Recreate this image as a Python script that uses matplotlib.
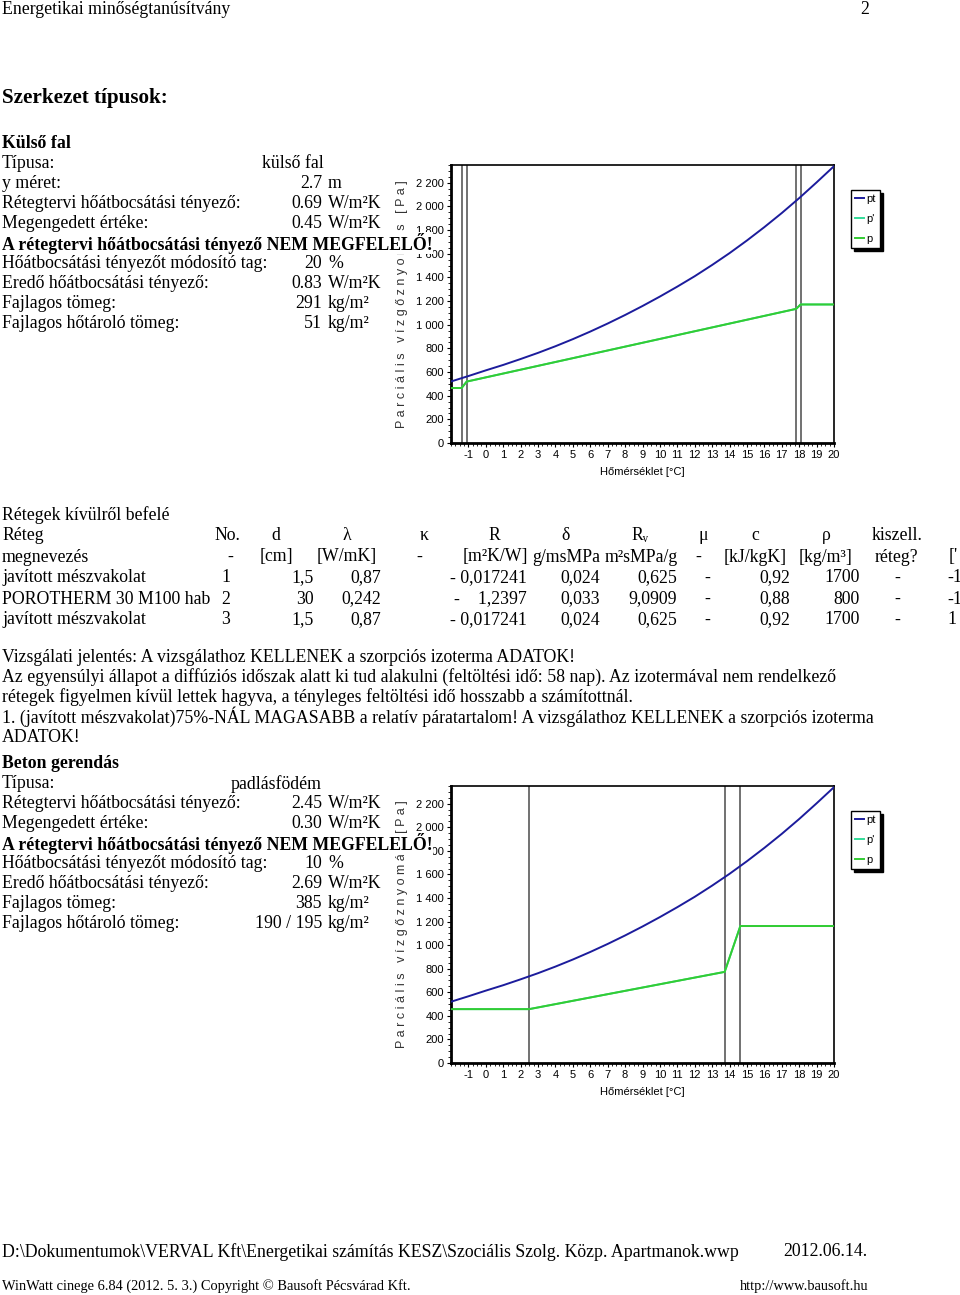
import matplotlib
matplotlib.use('Agg')
import matplotlib.pyplot as plt
from matplotlib.ticker import MultipleLocator

plt.rcParams['font.family'] = ['Liberation Serif', 'DejaVu Serif']
NARROW = ['Liberation Sans Narrow', 'Liberation Sans', 'DejaVu Sans']

# --- chart data ---
temps = [-2, -1, 0, 1, 2, 3, 4, 5, 6, 7, 8, 9, 10, 11, 12, 13, 14, 15, 16, 17, 18, 19, 20]
pt = [520, 566, 614, 660, 710, 762, 818, 878, 942, 1010, 1082, 1158, 1238, 1322, 1410, 1505, 1605, 1712, 1825, 1944, 2070, 2203, 2340]

wall_t = [-2, -1.39, -1.10, 17.83, 18.08, 20]
wall_p = [465, 465, 519, 1134, 1171, 1171]
wall_bounds = [-1.39, -1.10, 17.83, 18.08]

slab_t = [-2, 2.49, 13.72, 14.62, 20]
slab_p = [457, 457, 773, 1162, 1162]
slab_bounds = [2.49, 13.72, 14.62]

xticks = list(range(-1, 21))
yticks = [0, 200, 400, 600, 800, 1000, 1200, 1400, 1600, 1800, 2000, 2200]
ylabels = ['0', '200', '400', '600', '800', '1 000', '1 200', '1 400',
           '1 600', '1 800', '2 000', '2 200']

W, H = 960, 1295
FS = 12.8
fig = plt.figure(figsize=(W / 100, H / 100), dpi=100)
fig.patch.set_facecolor('white')


def t(x, y, s, **kw):
    kw.setdefault('fontsize', FS)
    kw.setdefault('va', 'center')
    return fig.text(x / W, 1 - y / H, s, **kw)


def chart(top, bottom, ct, cp, bounds):
    ax = fig.add_axes([451 / W, 1 - bottom / H, 383 / W, (bottom - top) / H])
    for b in bounds:
        ax.axvline(b, color='#666666', lw=1.3, zorder=1)
    ax.plot(temps, pt, color='#1c1c9c', lw=1.4, label='pt', zorder=3)
    ax.plot(ct, cp, color='#33dd99', lw=1.4, label="p'", zorder=2)
    ax.plot(ct, cp, color='#33cc33', lw=1.4, label='p', zorder=3)
    ax.set_xlim(-2, 20)
    ax.set_ylim(0, 2350)
    ax.set_xticks(xticks)
    ax.set_xticklabels([str(v) for v in xticks], family=NARROW, fontsize=8)
    ax.set_yticks(yticks)
    ax.set_yticklabels(ylabels, family=NARROW, fontsize=8)
    ax.xaxis.set_minor_locator(MultipleLocator(0.25))
    ax.yaxis.set_minor_locator(MultipleLocator(50))
    ax.tick_params(which='major', length=3, width=0.8, pad=2)
    ax.tick_params(which='minor', length=2, width=0.6)
    for s in ['top', 'right']:
        ax.spines[s].set_linewidth(1.2)
    for s in ['left', 'bottom']:
        ax.spines[s].set_linewidth(2)
    ax.set_xlabel('Hőmérséklet [°C]', family=NARROW, fontsize=8, labelpad=5)
    ax.set_ylabel('P a r c i á l i s   v í z g ő z n y o m á s   [ P a ]',
                  family=NARROW, fontsize=9, color='#333333', labelpad=6)
    leg = ax.legend(loc='upper left', bbox_to_anchor=(1.03, 0.93),
                    prop={'family': NARROW, 'size': 8},
                    handlelength=0.8, handletextpad=0.25, borderpad=0.35,
                    labelspacing=0.9, fancybox=False,
                    shadow={'color': 'black', 'alpha': 1})
    leg.get_frame().set_edgecolor('black')
    leg.get_frame().set_linewidth(1)
    return ax


ax1 = chart(165, 443, wall_t, wall_p, wall_bounds)
ax2 = chart(786, 1063, slab_t, slab_p, slab_bounds)

# --- page header ---
t(2, 9, 'Energetikai minőségtanúsítvány')
t(860, 9, '2')
t(2, 98, 'Szerkezet típusok:', fontsize=15.2, weight='bold')

white = dict(facecolor='white', edgecolor='none', pad=0.5)

# --- Külső fal block ---
t(2, 143, 'Külső fal', weight='bold')
t(2, 163, 'Típusa:')
t(262, 163, 'külső fal')
rows1 = [
    (183, 'y méret:', '2.7', 'm'),
    (203, 'Rétegtervi hőátbocsátási tényező:', '0.69', 'W/m²K'),
    (223, 'Megengedett értéke:', '0.45', 'W/m²K'),
    (263, 'Hőátbocsátási tényezőt módosító tag:', '20', '%'),
    (283, 'Eredő hőátbocsátási tényező:', '0.83', 'W/m²K'),
    (303, 'Fajlagos tömeg:', '291', 'kg/m²'),
    (323, 'Fajlagos hőtároló tömeg:', '51', 'kg/m²'),
]
for y, lab, val, unit in rows1:
    t(2, y, lab)
    t(322, y, val, ha='right')
    t(328, y, unit)
t(2, 243, 'A rétegtervi hőátbocsátási tényező NEM MEGFELELŐ!', weight='bold',
  bbox=white, zorder=10)

# --- layer table ---
t(2, 515, 'Rétegek kívülről befelé')
head1 = [(2, 'Réteg', 'left'), (227, 'No.', 'center'), (276, 'd', 'center'),
         (347, 'λ', 'center'), (424, 'κ', 'center'), (494, 'R', 'center'),
         (566, 'δ', 'center'), (640, 'Rᵥ', 'center'), (703, 'μ', 'center'),
         (755, 'c', 'center'), (826, 'ρ', 'center'), (872, 'kiszell.', 'left')]
for x, s, ha in head1:
    t(x, 536, s, ha=ha)
head2 = [(2, 'megnevezés', 'left'), (230, '-', 'center'), (276, '[cm]', 'center'),
         (347, '[W/mK]', 'center'), (419, '-', 'center'), (495, '[m²K/W]', 'center'),
         (566, 'g/msMPa', 'center'), (641, 'm²sMPa/g', 'center'), (698, '-', 'center'),
         (755, '[kJ/kgK]', 'center'), (826, '[kg/m³]', 'center'), (896, 'réteg?', 'center'),
         (949, "['", 'left')]
for x, s, ha in head2:
    t(x, 557, s, ha=ha)

layer_names = ['javított mészvakolat', 'POROTHERM 30 M100 hab', 'javított mészvakolat']
layer_no = ['1', '2', '3']
layer_d = ['1,5', '30', '1,5']
layer_lam = ['0,87', '0,242', '0,87']
layer_R = ['- 0,017241', '-    1,2397', '- 0,017241']
layer_delta = ['0,024', '0,033', '0,024']
layer_Rv = ['0,625', '9,0909', '0,625']
layer_c = ['0,92', '0,88', '0,92']
layer_rho = ['1700', '800', '1700']
layer_last = ['-1', '-1', '1']
for i, y in enumerate([578, 599, 620]):
    t(2, y, layer_names[i])
    t(226, y, layer_no[i], ha='center',
      bbox=dict(facecolor='white', edgecolor='none', pad=3), zorder=10)
    t(314, y, layer_d[i], ha='right')
    t(381, y, layer_lam[i], ha='right')
    t(527, y, layer_R[i], ha='right')
    t(600, y, layer_delta[i], ha='right')
    t(677, y, layer_Rv[i], ha='right')
    t(707, y, '-', ha='center')
    t(790, y, layer_c[i], ha='right')
    t(860, y, layer_rho[i], ha='right')
    t(897, y, '-', ha='center')
    t(947, y, layer_last[i])

# --- report paragraph ---
para = [
    'Vizsgálati jelentés: A vizsgálathoz KELLENEK a szorpciós izoterma ADATOK!',
    'Az egyensúlyi állapot a diffúziós időszak alatt ki tud alakulni (feltöltési idő: 58 nap). Az izotermával nem rendelkező',
    'rétegek figyelmen kívül lettek hagyva, a tényleges feltöltési idő hosszabb a számítottnál.',
    '1. (javított mészvakolat)75%-NÁL MAGASABB a relatív páratartalom! A vizsgálathoz KELLENEK a szorpciós izoterma',
    'ADATOK!',
]
for i, line in enumerate(para):
    t(2, 657 + 20 * i, line)

# --- Beton gerendás block ---
t(2, 764, 'Beton gerendás', weight='bold')
t(2, 784, 'Típusa:')
t(231, 784, 'padlásfödém')
rows2 = [
    (804, 'Rétegtervi hőátbocsátási tényező:', '2.45', 'W/m²K'),
    (824, 'Megengedett értéke:', '0.30', 'W/m²K'),
    (864, 'Hőátbocsátási tényezőt módosító tag:', '10', '%'),
    (884, 'Eredő hőátbocsátási tényező:', '2.69', 'W/m²K'),
    (904, 'Fajlagos tömeg:', '385', 'kg/m²'),
    (924, 'Fajlagos hőtároló tömeg:', '190 / 195', 'kg/m²'),
]
for y, lab, val, unit in rows2:
    t(2, y, lab)
    t(322, y, val, ha='right')
    t(328, y, unit)
t(2, 844, 'A rétegtervi hőátbocsátási tényező NEM MEGFELELŐ!', weight='bold',
  bbox=white, zorder=10)

# --- footer ---
t(2, 1252, 'D:\\Dokumentumok\\VERVAL Kft\\Energetikai számítás KESZ\\Szociális Szolg. Közp. Apartmanok.wwp')
t(783, 1252, '2012.06.14.')
t(2, 1286, 'WinWatt cinege 6.84 (2012. 5. 3.) Copyright © Bausoft Pécsvárad Kft.', fontsize=10.4)
t(740, 1286, 'http://www.bausoft.hu', fontsize=10.4)

fig.savefig('out.png', dpi=100)
